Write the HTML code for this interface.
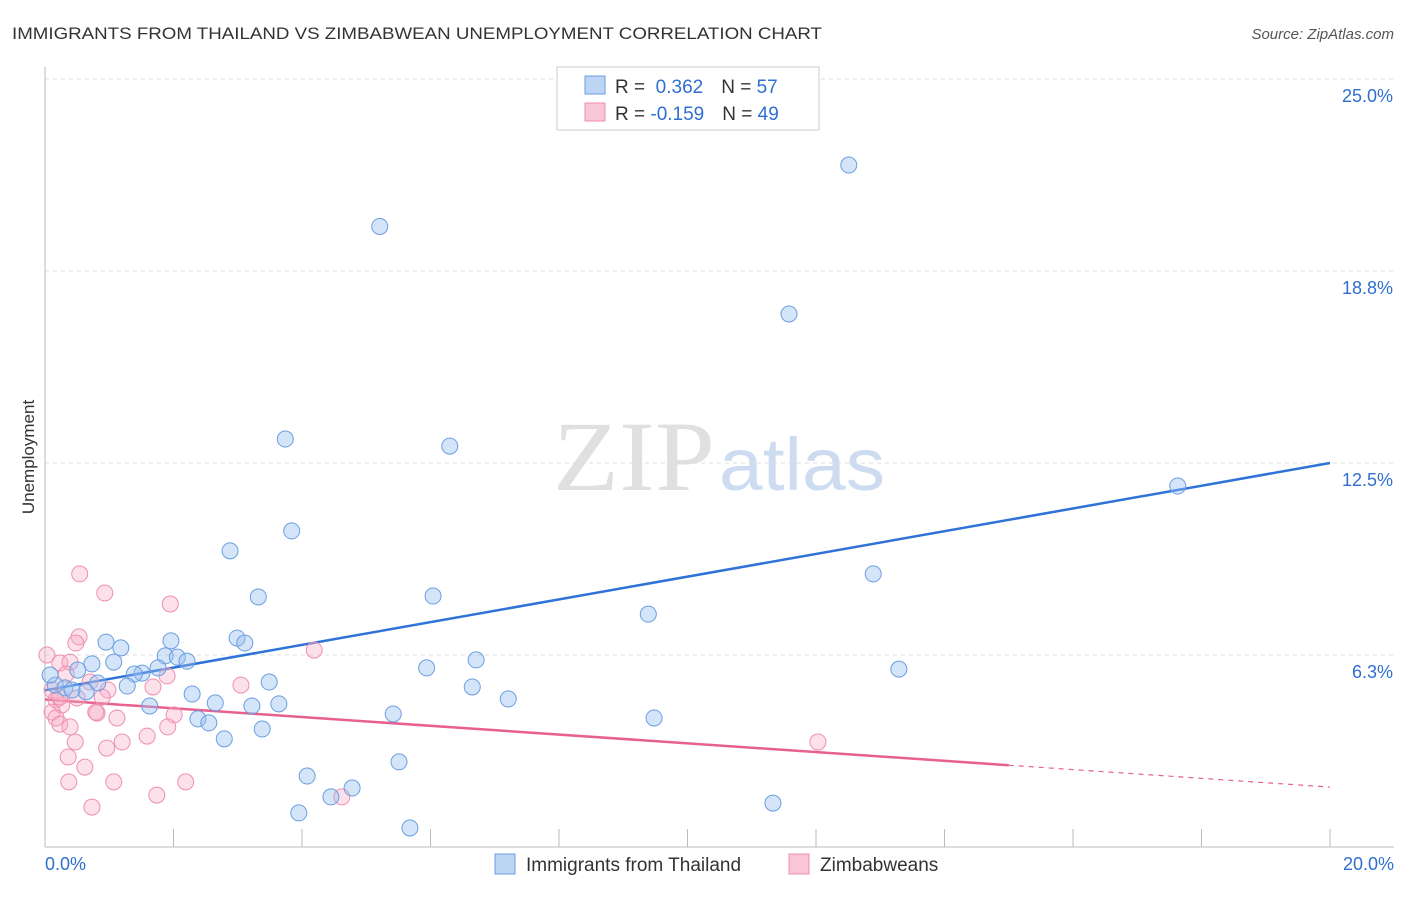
<!DOCTYPE html>
<html><head><meta charset="utf-8"><style>
body{margin:0;background:#fff;font-family:"Liberation Sans",sans-serif;}
svg text{font-family:"Liberation Sans",sans-serif;}
</style></head><body>
<svg id="chart" width="1406" height="892">
<text x="12" y="39" font-size="17" fill="#333" textLength="810" lengthAdjust="spacingAndGlyphs">IMMIGRANTS FROM THAILAND VS ZIMBABWEAN UNEMPLOYMENT CORRELATION CHART</text>
<text x="1394" y="39" font-size="15" fill="#555" font-style="italic" text-anchor="end">Source: ZipAtlas.com</text>
<text x="553" y="490" font-size="100" fill="#e0e0e0" textLength="162" lengthAdjust="spacingAndGlyphs" style="font-family:'Liberation Serif',serif">ZIP</text>
<text x="719" y="490" font-size="74" fill="#cddcf0" textLength="166" lengthAdjust="spacingAndGlyphs">atlas</text>
<text transform="translate(34,457) rotate(-90)" font-size="17" fill="#333" text-anchor="middle">Unemployment</text>
<g id="grid"></g><g id="axes"></g><g id="lines"></g><g id="pts"></g>
<g>
<rect x="557" y="67" width="262" height="63" fill="#fff" stroke="#ccc"/>
<rect x="585" y="76" width="20" height="18" fill="#bcd5f5" stroke="#6a9ee0"/>
<rect x="585" y="103" width="20" height="18" fill="#f9c6d6" stroke="#ee8fb0"/>
<text x="615" y="93" font-size="19" fill="#333">R = <tspan fill="#2f6fd0">&#160;0.362</tspan><tspan dx="18">N = </tspan><tspan fill="#2f6fd0">57</tspan></text>
<text x="615" y="120" font-size="19" fill="#333">R = <tspan fill="#2f6fd0">-0.159</tspan><tspan dx="18">N = </tspan><tspan fill="#2f6fd0">49</tspan></text>
</g>
<g>
<rect x="495" y="854" width="20" height="20" fill="#bcd5f5" stroke="#6a9ee0"/>
<text x="526" y="871" font-size="19" fill="#333">Immigrants from Thailand</text>
<rect x="789" y="854" width="20" height="20" fill="#f9c6d6" stroke="#ee8fb0"/>
<text x="820" y="871" font-size="19" fill="#333">Zimbabweans</text>
</g>
</svg>
<script>
const yTicks=[6.25,12.5,18.75,25];
const yTickLabels=["6.3%","12.5%","18.8%","25.0%"];
const xTickVals=[0,2,4,6,8,10,12,14,16,18,20];
const blueX=[5.21,12.51,11.58,3.74,6.30,17.63,3.84,2.88,12.89,3.32,6.04,9.39,2.99,3.11,1.96,0.95,1.18,1.87,2.06,2.21,1.07,0.73,6.71,5.94,13.29,1.76,1.51,1.39,0.51,1.28,0.82,3.49,6.65,2.29,0.64,0.16,0.31,0.42,7.21,2.65,1.63,3.22,3.64,5.42,9.48,2.38,2.55,3.38,2.79,5.51,4.08,4.78,4.45,11.33,3.95,5.68,0.08];
const blueY=[20.2,22.2,17.35,13.28,13.05,11.75,10.29,9.64,8.89,8.14,8.17,7.58,6.80,6.64,6.71,6.67,6.48,6.22,6.18,6.05,6.02,5.96,6.09,5.83,5.79,5.83,5.66,5.63,5.76,5.24,5.34,5.37,5.21,4.98,5.05,5.27,5.18,5.11,4.82,4.69,4.59,4.59,4.66,4.33,4.20,4.17,4.04,3.84,3.52,2.77,2.31,1.92,1.63,1.43,1.11,0.62,5.6];
const pinkX=[0.54,0.93,1.95,0.53,0.48,4.19,0.03,0.23,0.39,0.33,0.70,3.05,1.68,0.98,0.89,1.90,0.11,0.17,0.26,0.50,0.81,0.11,1.12,2.01,0.17,0.23,0.39,1.91,1.59,1.20,0.47,0.96,12.03,0.36,0.62,0.37,1.07,2.19,1.74,4.62,0.73,0.79,0.23];
const pinkY=[8.89,8.27,7.91,6.84,6.64,6.41,6.25,5.99,6.02,5.63,5.37,5.27,5.21,5.11,4.88,5.57,5.11,4.79,4.62,4.85,4.36,4.39,4.20,4.30,4.20,4.00,3.91,3.91,3.61,3.42,3.42,3.22,3.42,2.93,2.60,2.12,2.12,2.12,1.69,1.63,1.30,4.39,4.88];
const blueTrend=[5.1,12.5];
const pinkTrend=[4.8,1.95];
const pinkSolidEnd=15;
const X=v=>45+v*64.25, Y=v=>847-v*30.72;
const NS="http://www.w3.org/2000/svg";
function mk(tag,attrs,parent){const e=document.createElementNS(NS,tag);for(const k in attrs)e.setAttribute(k,attrs[k]);document.getElementById(parent).appendChild(e);return e;}
yTicks.forEach((t,i)=>{
 const g=mk('line',{x1:45,x2:1394,y1:Y(t),y2:Y(t),stroke:'#ddd','stroke-dasharray':'4,4'},'grid');
 
 
 const l=mk('text',{x:1393,y:Y(t)+23,'font-size':18,fill:'#2f6fd0','text-anchor':'end'},'grid');
 l.textContent=yTickLabels[i];
 
 
});
const ya=mk('line',{x1:45,x2:45,y1:67,y2:847,stroke:'#bbb'},'axes');


const xa=mk('line',{x1:45,x2:1394,y1:847,y2:847,stroke:'#bbb'},'axes');


xTickVals.forEach(v=>{const t=mk('line',{x1:X(v),x2:X(v),y1:829,y2:847,stroke:'#bbb'},'axes');
 
 });
const x0=mk('text',{x:45,y:870,'font-size':18,fill:'#2f6fd0'},'axes');x0.textContent='0.0%';


const x1=mk('text',{x:1394,y:870,'font-size':18,fill:'#2f6fd0','text-anchor':'end'},'axes');x1.textContent='20.0%';


function dot(x,y,fill,stroke,name){const c=mk('circle',{cx:X(x),cy:Y(y),r:8,fill:fill,stroke:stroke,'stroke-width':1},'pts');
 
 }
pinkX.forEach((x,i)=>dot(x,pinkY[i],'rgba(245,170,195,0.35)','#ee8fb0','zimbabwean-point'));
blueX.forEach((x,i)=>dot(x,blueY[i],'rgba(150,190,240,0.4)','#6a9ee0','thailand-point'));
const bl=mk('line',{x1:X(0),y1:Y(blueTrend[0]),x2:X(20),y2:Y(blueTrend[1]),stroke:'#2f72d8','stroke-width':2.5},'lines');


const pm=pinkTrend[0]+(pinkTrend[1]-pinkTrend[0])*pinkSolidEnd/20;
const pl=mk('line',{x1:X(0),y1:Y(pinkTrend[0]),x2:X(pinkSolidEnd),y2:Y(pm),stroke:'#e8608e','stroke-width':2.5},'lines');


const pd=mk('line',{x1:X(pinkSolidEnd),y1:Y(pm),x2:X(20),y2:Y(pinkTrend[1]),stroke:'#e8608e','stroke-width':1.2,'stroke-dasharray':'5,5'},'lines');


</script>
</body></html>
